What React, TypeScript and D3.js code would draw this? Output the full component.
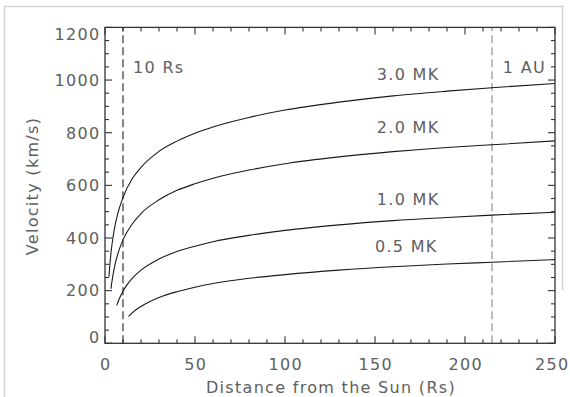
import React from 'react';
import * as d3 from 'd3';

// Parker wind speeds (distance in Rs, speed in km/s)
const r30 = [2.2, 2.5, 3, 3.5, 4, 5, 7, 10, 15, 20, 30, 40, 50, 60, 80, 100, 130, 160, 190, 215, 250];
const v30 = [253, 282, 321, 354, 381, 426, 490, 554, 624, 668, 729, 768, 798, 822, 858, 886, 916, 940, 958, 971, 987];

const r20 = [3.33, 3.6, 4, 5, 6, 7, 10, 15, 20, 30, 40, 50, 60, 80, 100, 130, 160, 190, 215, 250];
const v20 = [207, 223, 241, 280, 311, 337, 393, 452, 493, 545, 581, 606, 627, 658, 682, 708, 728, 744, 754, 769];

const r10 = [6.5, 7, 8, 10, 12, 15, 20, 30, 40, 50, 60, 80, 100, 130, 160, 190, 215, 250];
const v10 = [144, 153, 170, 198, 220, 246, 278, 320, 349, 369, 386, 410, 429, 450, 466, 478, 487, 498];

const r05 = [13, 14, 15, 20, 25, 30, 40, 50, 60, 80, 100, 130, 160, 190, 215, 250];
const v05 = [102, 108, 115, 140, 159, 174, 196, 213, 227, 247, 261, 278, 291, 301, 308, 318];

const curveLabels = ['3.0 MK', '2.0 MK', '1.0 MK', '0.5 MK'];
const xTicks = [0, 50, 100, 150, 200, 250];
const yTicks = [0, 200, 400, 600, 800, 1000, 1200];
const markers = [10, 215];
const markerLabels = ['10 Rs', '1 AU'];

const W = 570;
const H = 397;
const font = '"DejaVu Sans", sans-serif';
const textColor = '#606060';

export default function App() {
  const x = d3.scaleLinear().domain([0, 250]).range([105, 555]);
  const y = d3.scaleLinear().domain([0, 1200]).range([343.3, 27.4]);

  const series = [
    r30.map((r, i) => [r, v30[i]]),
    r20.map((r, i) => [r, v20[i]]),
    r10.map((r, i) => [r, v10[i]]),
    r05.map((r, i) => [r, v05[i]]),
  ];

  const line = d3
    .line<number[]>()
    .x((d) => x(d[0]))
    .y((d) => y(d[1]))
    .curve(d3.curveMonotoneX);

  const [x0, x1] = x.range();
  const [y0, y1] = y.range();
  const xMinor = d3.range(0, 251, 10);
  const yMinor = d3.range(0, 1201, 50);
  const major = 7;
  const minor = 4;

  // label anchor points, in data units
  const labelPos = [
    [151, 1000],
    [151, 798],
    [151, 525],
    [150, 347],
  ];
  const markerLabelPos = [
    [15.6, 1026],
    [221, 1026],
  ];

  const txt = { fontFamily: font, fontSize: 16, fill: textColor, letterSpacing: '1.3px' };

  return (
    <svg width={W} height={H} style={{ position: 'absolute', left: 0, top: 0, background: '#fff' }}>
      {/* outer frame */}
      <path d={`M4.5,${H} V6.5 H562.5 V290`} fill="none" stroke="#d2d2d2" strokeWidth={1.5} />

      {/* reference distances */}
      {markers.map((m, i) => (
        <line
          key={m}
          x1={x(m)}
          x2={x(m)}
          y1={y0}
          y2={y1}
          stroke={i === 0 ? '#222' : '#888'}
          strokeWidth={1.1}
          strokeDasharray="8,4"
        />
      ))}

      {series.map((s, i) => (
        <path key={i} d={line(s) || ''} fill="none" stroke="#1a1a1a" strokeWidth={1.1} />
      ))}

      {/* axes box */}
      <rect x={x0} y={y1} width={x1 - x0} height={y0 - y1} fill="none" stroke="#333" strokeWidth={1.3} />

      {xMinor.map((t) => {
        const len = t % 50 === 0 ? major : minor;
        return (
          <g key={'x' + t} stroke="#333" strokeWidth={1.1}>
            <line x1={x(t)} x2={x(t)} y1={y0} y2={y0 - len} />
            <line x1={x(t)} x2={x(t)} y1={y1} y2={y1 + len} />
          </g>
        );
      })}
      {yMinor.map((t) => {
        const len = t % 200 === 0 ? major : minor;
        return (
          <g key={'y' + t} stroke="#333" strokeWidth={1.1}>
            <line x1={x0} x2={x0 + len} y1={y(t)} y2={y(t)} />
            <line x1={x1} x2={x1 - len} y1={y(t)} y2={y(t)} />
          </g>
        );
      })}

      {xTicks.map((t, i) => {
        const last = i === xTicks.length - 1;
        return (
          <text
            key={'xl' + t}
            x={last ? W - 0.5 : x(t) + 0.7}
            y={370}
            textAnchor={last ? 'end' : 'middle'}
            style={txt}
          >
            {t}
          </text>
        );
      })}
      {yTicks.map((t, i) => {
        let dy = 0;
        if (i === 0) dy = -5.8;
        if (i === yTicks.length - 1) dy = 6.4;
        return (
          <text key={'yl' + t} x={100.5} y={y(t) + dy + 5.8} textAnchor="end" style={txt}>
            {t}
          </text>
        );
      })}

      <text x={331} y={393} textAnchor="middle" style={txt}>
        Distance from the Sun (Rs)
      </text>
      <text transform={`translate(38,186) rotate(-90)`} textAnchor="middle" style={txt}>
        Velocity (km/s)
      </text>

      {curveLabels.map((l, i) => (
        <text key={l} x={x(labelPos[i][0])} y={y(labelPos[i][1])} style={txt}>
          {l}
        </text>
      ))}
      {markerLabels.map((l, i) => (
        <text key={l} x={x(markerLabelPos[i][0])} y={y(markerLabelPos[i][1])} style={txt}>
          {l}
        </text>
      ))}
    </svg>
  );
}
